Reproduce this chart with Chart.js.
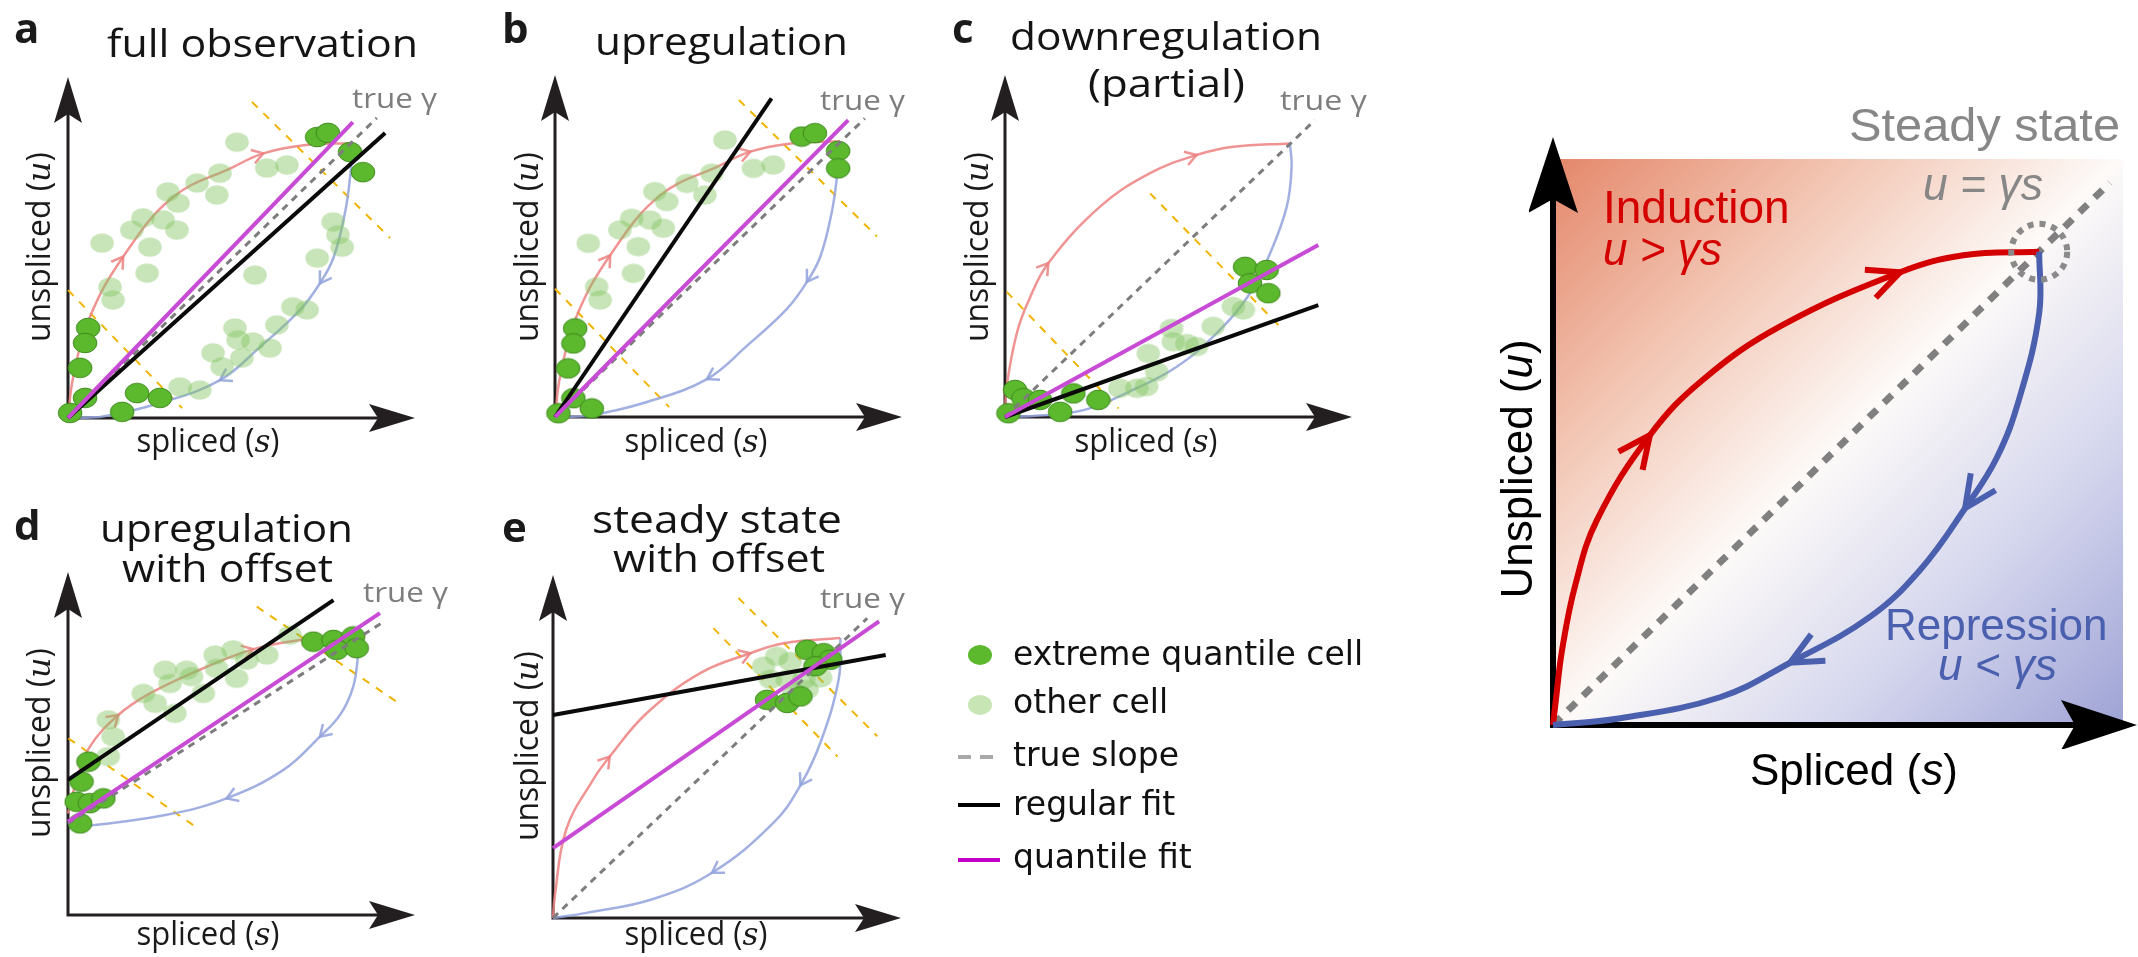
<!DOCTYPE html>
<html>
<head>
<meta charset="utf-8">
<script src="https://cdn.jsdelivr.net/npm/chart.js@4.4.1/dist/chart.umd.min.js"></script>
<style>
  html, body { margin: 0; padding: 0; background: #fff; }
  #page { position: relative; width: 2138px; height: 957px; overflow: hidden; background: #fff; }
  canvas { position: absolute; }
  #labels { position: absolute; left: 0; top: 0; pointer-events: none; }
</style>
</head>
<body>
<div id="page">
  <canvas id="panelA"></canvas>
  <canvas id="panelB"></canvas>
  <canvas id="panelC"></canvas>
  <canvas id="panelD"></canvas>
  <canvas id="panelE"></canvas>
  <canvas id="kinetics"></canvas>

  <svg id="labels" width="2138" height="957" xmlns="http://www.w3.org/2000/svg">
    <!-- panel letters -->
    <g font-family="Open Sans" font-weight="700" font-size="42" fill="#1a1a1a">
      <text x="14" y="43">a</text>
      <text x="502" y="43">b</text>
      <text x="952" y="43">c</text>
      <text x="14" y="540">d</text>
      <text x="502" y="542">e</text>
    </g>
    <!-- panel titles -->
    <g font-family="Open Sans" font-size="39" fill="#141414">
      <text x="107" y="57" textLength="311" lengthAdjust="spacingAndGlyphs">full observation</text>
      <text x="595" y="55" textLength="253" lengthAdjust="spacingAndGlyphs">upregulation</text>
      <text x="1010" y="50" textLength="312" lengthAdjust="spacingAndGlyphs">downregulation</text>
      <text x="1088" y="97" textLength="157" lengthAdjust="spacingAndGlyphs">(partial)</text>
      <text x="100" y="542" textLength="253" lengthAdjust="spacingAndGlyphs">upregulation</text>
      <text x="122" y="582" textLength="211" lengthAdjust="spacingAndGlyphs">with offset</text>
      <text x="592" y="533" textLength="250" lengthAdjust="spacingAndGlyphs">steady state</text>
      <text x="613" y="572" textLength="212" lengthAdjust="spacingAndGlyphs">with offset</text>
    </g>
    <!-- true slope tags -->
    <g font-family="Open Sans" font-size="28" fill="#7d7d7d">
      <text x="352" y="108" textLength="85" lengthAdjust="spacingAndGlyphs">true γ</text>
      <text x="820" y="110" textLength="85" lengthAdjust="spacingAndGlyphs">true γ</text>
      <text x="1280" y="110" textLength="87" lengthAdjust="spacingAndGlyphs">true γ</text>
      <text x="363" y="602" textLength="85" lengthAdjust="spacingAndGlyphs">true γ</text>
      <text x="820" y="608" textLength="85" lengthAdjust="spacingAndGlyphs">true γ</text>
    </g>
    <!-- small panel axis titles -->
    <g font-family="Open Sans" font-size="32" fill="#1a1a1a" text-anchor="middle">
      <text transform="translate(50,247) rotate(-90)" textLength="190" lengthAdjust="spacingAndGlyphs">unspliced (<tspan font-family="DejaVu Serif" font-style="italic">u</tspan>)</text>
      <text transform="translate(538,247) rotate(-90)" textLength="190" lengthAdjust="spacingAndGlyphs">unspliced (<tspan font-family="DejaVu Serif" font-style="italic">u</tspan>)</text>
      <text transform="translate(988,247) rotate(-90)" textLength="190" lengthAdjust="spacingAndGlyphs">unspliced (<tspan font-family="DejaVu Serif" font-style="italic">u</tspan>)</text>
      <text transform="translate(50,743) rotate(-90)" textLength="190" lengthAdjust="spacingAndGlyphs">unspliced (<tspan font-family="DejaVu Serif" font-style="italic">u</tspan>)</text>
      <text transform="translate(538,746) rotate(-90)" textLength="190" lengthAdjust="spacingAndGlyphs">unspliced (<tspan font-family="DejaVu Serif" font-style="italic">u</tspan>)</text>
      <text x="208" y="452" textLength="143" lengthAdjust="spacingAndGlyphs">spliced (<tspan font-family="DejaVu Serif" font-style="italic">s</tspan>)</text>
      <text x="696" y="452" textLength="143" lengthAdjust="spacingAndGlyphs">spliced (<tspan font-family="DejaVu Serif" font-style="italic">s</tspan>)</text>
      <text x="1146" y="452" textLength="143" lengthAdjust="spacingAndGlyphs">spliced (<tspan font-family="DejaVu Serif" font-style="italic">s</tspan>)</text>
      <text x="208" y="945" textLength="143" lengthAdjust="spacingAndGlyphs">spliced (<tspan font-family="DejaVu Serif" font-style="italic">s</tspan>)</text>
      <text x="696" y="945" textLength="143" lengthAdjust="spacingAndGlyphs">spliced (<tspan font-family="DejaVu Serif" font-style="italic">s</tspan>)</text>
    </g>
    <!-- legend -->
    <ellipse cx="980" cy="655" rx="12" ry="10" fill="#5cb82d"/>
    <ellipse cx="980" cy="705" rx="12" ry="10" fill="#c8e5b6"/>
    <line x1="958" y1="757" x2="1000" y2="757" stroke="#a8a8a8" stroke-width="4" stroke-dasharray="13 9"/>
    <line x1="958" y1="805" x2="1000" y2="805" stroke="#000" stroke-width="4"/>
    <line x1="958" y1="860" x2="1000" y2="860" stroke="#c400c8" stroke-width="4"/>
    <g font-family="DejaVu Sans" font-size="33" fill="#111">
      <text x="1013" y="665">extreme quantile cell</text>
      <text x="1013" y="713">other cell</text>
      <text x="1013" y="766">true slope</text>
      <text x="1013" y="815">regular fit</text>
      <text x="1013" y="868">quantile fit</text>
    </g>
    <!-- kinetics panel text -->
    <g font-family="Liberation Sans">
      <text x="1849" y="141" font-size="46" fill="#878787" textLength="271" lengthAdjust="spacingAndGlyphs">Steady state</text>
      <text x="1603" y="223" font-size="46" fill="#d40000">Induction</text>
      <text x="1603" y="265" font-size="46" fill="#d40000" font-style="italic" textLength="119" lengthAdjust="spacingAndGlyphs">u &gt; γs</text>
      <text x="1923" y="200" font-size="46" fill="#878787" font-style="italic" textLength="120" lengthAdjust="spacingAndGlyphs">u = γs</text>
      <text x="1885" y="640" font-size="44" fill="#4a5fad">Repression</text>
      <text x="1938" y="680" font-size="44" fill="#4a5fad" font-style="italic" textLength="119" lengthAdjust="spacingAndGlyphs">u &lt; γs</text>
      <text x="1750" y="785" font-size="44" fill="#000">Spliced (<tspan font-style="italic">s</tspan>)</text>
      <text transform="translate(1532,469) rotate(-90)" font-size="44" fill="#000" text-anchor="middle">Unspliced (<tspan font-style="italic">u</tspan>)</text>
    </g>
  </svg>
</div>

<script>
// ---- panel a: full observation ----
const aExtreme = [[71.8, 82.4], [74.9, 83.6], [81.3, 78.0], [85.0, 72.1], [5.8, 26.4], [4.9, 22.0],
  [3.5, 14.7], [4.9, 5.9], [0.6, 1.5], [19.9, 7.3], [26.5, 5.9], [15.6, 1.8]];
const aOther = [[48.7, 80.9], [57.3, 73.3], [63.1, 74.2], [43.8, 71.8], [37.2, 68.9], [42.9, 65.4],
  [28.8, 66.3], [31.7, 63.0], [21.6, 58.7], [27.4, 58.1], [31.4, 55.1], [18.4, 55.1], [9.8, 51.3],
  [23.6, 50.1], [22.8, 42.5], [12.1, 38.4], [13.0, 34.6], [53.9, 41.9], [76.4, 57.5], [77.8, 53.7],
  [79.0, 50.1], [71.8, 46.9], [64.8, 32.6], [68.9, 31.7], [60.2, 27.3], [48.1, 26.4], [49.0, 22.9],
  [53.3, 22.3], [58.2, 20.5], [50.1, 17.6], [41.8, 19.1], [44.4, 15.0], [32.3, 9.1], [38.0, 8.2]];
const abInduction = [[0, 0], [1.5, 12], [6.3, 29.6], [15.9, 47.3], [30.3, 64.8], [47.6, 73.6],
  [56.3, 77.6], [68, 80], [82.1, 80.6]];
const abRepression = [[82.1, 80.6], [81.3, 70.7], [79.8, 60.1], [76.5, 47], [72.6, 39.5], [66.9, 31.7],
  [55.3, 20.8], [43.8, 11.1], [26.5, 4.4], [9.2, 0.3], [0, 0]];
const aTrue = [[0, 0], [89, 88]];
const aRegular = [[0, 0], [91.4, 83.6]];
const aQuantile = [[0, 0], [82.1, 86.8]];
const abBands = [[[0, 37.5], [32.9, 2.9]], [[53, 92.7], [92.8, 52.8]]];

// ---- panel b: upregulation ----
const bExtreme = [[71.1, 82.0], [74.9, 83.0], [81.6, 77.8], [81.6, 72.7], [5.8, 25.9], [5.3, 21.5],
  [3.8, 14.2], [5.3, 5.5], [1.0, 1.1], [10.6, 2.5]];
const bOther = [[49.0, 81.0], [57.2, 72.7], [62.9, 73.7], [45.2, 71.3], [38.0, 68.3], [43.2, 64.9],
  [28.8, 65.9], [32.2, 63.0], [22.1, 58.1], [27.4, 57.6], [31.2, 55.2], [18.7, 54.7], [9.6, 50.8],
  [24.0, 49.8], [22.6, 42.0], [12.0, 38.1], [13.0, 34.2]];
const bTrue = [[0, 0], [89.3, 87.3]];
const bRegular = [[0, 0], [62.4, 93.2]];
const bQuantile = [[0, 0], [84.5, 86.8]];

// ---- panel c: downregulation (partial) ----
const cExtreme = [[69.2, 43.9], [75.4, 43.0], [70.6, 39.1], [75.9, 36.2], [2.9, 7.9], [5.3, 5.5],
  [1.0, 1.1], [10.1, 5.0], [15.9, 1.5], [19.7, 6.9], [26.9, 5.0]];
const cOther = [[33.1, 8.4], [38.0, 8.4], [40.8, 8.9], [43.7, 13.2], [41.3, 18.6], [48.0, 25.9],
  [48.5, 22.0], [52.4, 21.5], [55.2, 20.6], [60.0, 26.5], [65.8, 32.3], [68.7, 31.3]];
const cInduction = [[0, 0], [0.5, 9], [3.4, 24.5], [6.9, 34.2], [12.5, 45], [27.4, 61.5], [41.8, 71.3],
  [55.2, 76.6], [65.8, 79], [82.1, 80]];
const cRepression = [[82.1, 80], [82.6, 73.2], [81.2, 61.5], [76.4, 47.9], [70.6, 36.2], [61, 24.5],
  [49.5, 14.7], [36, 7.5], [22.6, 2], [8, 0.3], [0, 0]];
const cTrue = [[0, 0], [89.3, 86.8]];
const cRegular = [[0, 0], [90.3, 32.7]];
const cQuantile = [[0, 0], [90.3, 50.3]];
const cBands = [[[0.5, 36.6], [32.7, 2.5]], [[41.8, 65.4], [80.2, 25.4]]];

// ---- panel d: upregulation with offset ----
const dExtreme = [[5.9, 44.7], [3.9, 38.9], [2.5, 33.0], [6.3, 32.6], [10.2, 34.0], [3.5, 26.7],
  [70.7, 79.7], [76.5, 80.2], [82.2, 81.2], [77.4, 77.3], [83.2, 77.8]];
const dOther = [[11.6, 56.9], [13.0, 52.0], [11.6, 46.2], [21.7, 64.6], [25.1, 61.7], [28.0, 71.4],
  [29.4, 67.5], [34.2, 71.4], [35.6, 69.5], [39.0, 64.6], [42.4, 75.8], [42.8, 71.9], [47.6, 77.3],
  [48.6, 69.0], [51.5, 74.3], [57.3, 75.8], [64.0, 81.6], [30.8, 58.8]];
const dInduction = [[0, 29.6], [2.5, 39.4], [6.3, 49.1], [14.5, 58.3], [23.6, 64.6], [38, 71.5],
  [53.4, 77.5], [66.9, 80.2], [82.2, 81.2]];
const dRepression = [[83.7, 76.3], [82.2, 66.6], [78.5, 58.5], [72.6, 52.0], [62.1, 42.3], [45.7, 34.0],
  [28.4, 29.2], [7.3, 26.2], [2.5, 26.0]];
const dTrue = [[0, 26.6], [91, 85.5]];
const dRegular = [[0, 39.4], [76.5, 91.8]];
const dQuantile = [[0, 27.2], [89.9, 88]];
const dBands = [[[0.1, 51.5], [36.1, 26.2]], [[54.4, 89.9], [94.7, 62.2]]];

// ---- panel e: steady state with offset ----
const eExtreme = [[61.5, 63.6], [67.3, 62.7], [71.1, 64.6], [73.0, 78.2], [77.8, 77.2], [79.7, 75.3],
  [75.4, 73.4]];
const eOther = [[60.5, 73.4], [64.3, 76.3], [68.2, 74.8], [62.5, 69.6], [67.3, 69.6], [72.1, 69.6],
  [76.9, 70.0], [69.2, 65.6], [73.0, 66.6]];
const eInduction = [[0, 0], [0.5, 6.3], [3.8, 25.8], [11.5, 40.3], [16.3, 47.1], [26.9, 59.7],
  [42.3, 71.4], [56.7, 77.2], [66.3, 80.1], [82.6, 81.6]];
const eRepression = [[82.6, 81.6], [82.1, 69.6], [76.9, 51.3], [71.1, 38.7], [63.4, 27.8], [45.7, 13.2],
  [28.3, 5.4], [9.6, 1.5], [0, 0]];
const eTrue = [[0, 0], [90.3, 87.4]];
const eRegular = [[0, 59.2], [95.6, 76.7]];
const eQuantile = [[0, 20.4], [93.7, 86.5]];
const eBands = [[[46.1, 84.5], [81.7, 47.1]], [[53.3, 93.3], [93.2, 53.0]]];

// ---- kinetics overview ----
const kinInduction = [[0, 0], [0.5, 4.4], [1.6, 13.3], [3.9, 24.7], [7.7, 36.2], [17, 51.2],
  [26.3, 61], [40, 70.5], [60.9, 80.0], [72, 83], [85.3, 83.6]];
const kinRepression = [[85.3, 83.6], [85.3, 72.8], [81.9, 58.0], [77.9, 47.3], [72.3, 38.3], [64.4, 27.4],
  [55.6, 19.1], [41.6, 11.0], [29.3, 4.9], [11.8, 1.2], [0, 0]];
const kinSteadyLine = [[0, 0], [97.7, 95.8]];
const kinSteadyState = [[85.3, 83.6]];

Chart.defaults.animation = false;
Chart.defaults.events = [];
Chart.defaults.plugins.legend.display = false;
Chart.defaults.plugins.tooltip.enabled = false;

const xy = arr => arr.map(([x, y]) => ({ x, y }));

// slightly flattened cell markers
function cellMarker(fill, stroke) {
  const c = document.createElement('canvas');
  c.width = 26;
  c.height = 22;
  const g = c.getContext('2d');
  g.beginPath();
  g.ellipse(13, 11, 11.8, 9.8, 0, 0, Math.PI * 2);
  g.fillStyle = fill;
  g.fill();
  if (stroke) {
    g.strokeStyle = stroke;
    g.lineWidth = 1;
    g.stroke();
  }
  return c;
}
const extremeMarker = cellMarker('#5cb82d', '#3d8a1d');
const otherMarker = cellMarker('rgba(130,196,95,0.44)', null);

function line(points, style) {
  return Object.assign({ data: xy(points), showLine: true, pointRadius: 0, clip: false, fill: false }, style);
}

function dots(points, marker, order) {
  return { data: xy(points), showLine: false, pointStyle: marker, pointRadius: 11, clip: false, order };
}

// axes with notched arrowheads, drawn from the chart area's lower-left corner
function arrowAxes(cfg) {
  return {
    id: 'arrowAxes',
    beforeDatasetsDraw(chart) {
      const { ctx, chartArea: a } = chart;
      const x0 = a.left, y0 = a.bottom;
      const xTip = a.right + cfg.overX, yTip = a.top - cfg.overY;
      ctx.save();
      ctx.strokeStyle = cfg.color;
      ctx.fillStyle = cfg.color;
      ctx.lineWidth = cfg.width;
      ctx.beginPath();
      ctx.moveTo(x0, y0 + cfg.width / 2);
      ctx.lineTo(x0, yTip + cfg.head - cfg.notch);
      ctx.moveTo(x0 - cfg.width / 2, y0);
      ctx.lineTo(xTip - cfg.head + cfg.notch, y0);
      ctx.stroke();
      ctx.beginPath();
      ctx.moveTo(x0, yTip);
      ctx.lineTo(x0 - cfg.half, yTip + cfg.head);
      ctx.lineTo(x0, yTip + cfg.head - cfg.notch);
      ctx.lineTo(x0 + cfg.half, yTip + cfg.head);
      ctx.closePath();
      ctx.fill();
      ctx.beginPath();
      ctx.moveTo(xTip, y0);
      ctx.lineTo(xTip - cfg.head, y0 - cfg.half);
      ctx.lineTo(xTip - cfg.head + cfg.notch, y0);
      ctx.lineTo(xTip - cfg.head, y0 + cfg.half);
      ctx.closePath();
      ctx.fill();
      ctx.restore();
    }
  };
}

// open chevrons along trajectories, and the dotted ring round the steady state
const trajectoryMarks = {
  id: 'trajectoryMarks',
  afterDatasetDraw(chart, args) {
    const ds = chart.data.datasets[args.index];
    const pts = args.meta.data;
    const ctx = chart.ctx;
    if (ds.arrowAt) {
      const [len, spread] = ds.arrowSize;
      ds.arrowAt.forEach(k => {
        const p = pts[k], a = pts[k - 1], b = pts[k + 1];
        const ang = Math.atan2(b.y - a.y, b.x - a.x);
        ctx.save();
        ctx.translate(p.x, p.y);
        ctx.rotate(ang);
        ctx.strokeStyle = ds.borderColor;
        ctx.lineWidth = ds.borderWidth;
        ctx.beginPath();
        ctx.moveTo(-len, -spread);
        ctx.lineTo(0, 0);
        ctx.lineTo(-len, spread);
        ctx.stroke();
        ctx.restore();
      });
    }
    if (ds.ring) {
      pts.forEach(p => {
        ctx.save();
        ctx.strokeStyle = ds.ring.color;
        ctx.lineWidth = ds.ring.width;
        ctx.setLineDash(ds.ring.dash);
        ctx.beginPath();
        ctx.arc(p.x, p.y, ds.ring.radius, 0, Math.PI * 2);
        ctx.stroke();
        ctx.restore();
      });
    }
  }
};

const PAD = 32;

function makePanel(id, origin, size, p) {
  const cv = document.getElementById(id);
  cv.width = size[0] + 2 * PAD;
  cv.height = size[1] + 2 * PAD;
  cv.style.left = (origin[0] - PAD) + 'px';
  cv.style.top = (origin[1] - size[1] - PAD) + 'px';

  const datasets = [
    line(p.quantile, { borderColor: '#c84bd6', borderWidth: 4, order: 1 }),
    line(p.regular, { borderColor: '#0a0a0a', borderWidth: 4, order: 2 }),
    line(p.truth, { borderColor: '#7d7d7d', borderWidth: 3, borderDash: [7, 6], order: 3 }),
    dots(p.extreme, extremeMarker, 4),
    dots(p.other, otherMarker, 5),
    line(p.induction, { borderColor: 'rgba(236,128,128,0.85)', borderWidth: 2.5, tension: 0.4,
      arrowAt: p.inductionArrows, arrowSize: [11, 7], order: 6 }),
    line(p.repression, { borderColor: 'rgba(146,162,220,0.85)', borderWidth: 2.5, tension: 0.4,
      arrowAt: p.repressionArrows, arrowSize: [11, 7], order: 6 }),
    ...p.bands.map(b => line(b, { borderColor: '#f0b400', borderWidth: 2, borderDash: [8, 8], order: 7 }))
  ];

  new Chart(cv, {
    type: 'scatter',
    data: { datasets },
    options: {
      responsive: false,
      devicePixelRatio: 1,
      layout: { padding: PAD },
      scales: {
        x: { type: 'linear', min: 0, max: 100, display: false },
        y: { type: 'linear', min: 0, max: 100, display: false }
      }
    },
    plugins: [
      arrowAxes({ color: '#231f20', width: 3, head: 46, half: 14, notch: 9, overX: 0, overY: 0 }),
      trajectoryMarks
    ]
  });
}

makePanel('panelA', [68, 418], [347, 341], {
  extreme: aExtreme, other: aOther, induction: abInduction, repression: abRepression,
  inductionArrows: [3, 6], repressionArrows: [4, 7],
  truth: aTrue, regular: aRegular, quantile: aQuantile, bands: abBands
});
makePanel('panelB', [555, 417], [347, 342], {
  extreme: bExtreme, other: bOther, induction: abInduction, repression: abRepression,
  inductionArrows: [3, 6], repressionArrows: [4, 7],
  truth: bTrue, regular: bRegular, quantile: bQuantile, bands: abBands
});
makePanel('panelC', [1005, 417], [347, 342], {
  extreme: cExtreme, other: cOther, induction: cInduction, repression: cRepression,
  inductionArrows: [4, 7], repressionArrows: null,
  truth: cTrue, regular: cRegular, quantile: cQuantile, bands: cBands
});
makePanel('panelD', [68, 915], [347, 343], {
  extreme: dExtreme, other: dOther, induction: dInduction, repression: dRepression,
  inductionArrows: [3, 6], repressionArrows: [3, 5],
  truth: dTrue, regular: dRegular, quantile: dQuantile, bands: dBands
});
makePanel('panelE', [553, 918], [348, 343], {
  extreme: eExtreme, other: eOther, induction: eInduction, repression: eRepression,
  inductionArrows: [4, 7], repressionArrows: [3, 5],
  truth: eTrue, regular: eRegular, quantile: eQuantile, bands: eBands
});

// ---- kinetics overview: shaded phase plane ----
const regionShade = {
  id: 'regionShade',
  beforeDatasetsDraw(chart) {
    const { ctx, chartArea: a } = chart;
    const g = ctx.createLinearGradient(a.left, a.top, a.right, a.bottom);
    g.addColorStop(0, '#e4876a');
    g.addColorStop(0.25, '#f2c3b0');
    g.addColorStop(0.5, '#fdfaf8');
    g.addColorStop(0.75, '#d3d5ed');
    g.addColorStop(1, '#9fa3d5');
    ctx.save();
    ctx.fillStyle = g;
    ctx.fillRect(a.left, a.top, a.right - a.left, a.bottom - a.top);
    ctx.restore();
  }
};

(function () {
  const cv = document.getElementById('kinetics');
  const pad = { left: 24, right: 34, top: 44, bottom: 24 };
  const size = [570, 566];
  const origin = [1553, 725];
  cv.width = size[0] + pad.left + pad.right;
  cv.height = size[1] + pad.top + pad.bottom;
  cv.style.left = (origin[0] - pad.left) + 'px';
  cv.style.top = (origin[1] - size[1] - pad.top) + 'px';

  new Chart(cv, {
    type: 'scatter',
    data: {
      datasets: [
        line(kinSteadyState, { pointRadius: 0, showLine: false,
          ring: { radius: 28, width: 6, dash: [6, 6], color: '#8a8a8a' }, order: 1 }),
        line(kinRepression, { borderColor: '#4a5fad', borderWidth: 6, tension: 0.4,
          arrowAt: [4, 7], arrowSize: [32, 15], order: 2 }),
        line(kinInduction, { borderColor: '#d40000', borderWidth: 6, tension: 0.4,
          arrowAt: [5, 8], arrowSize: [32, 15], order: 3 }),
        line(kinSteadyLine, { borderColor: '#808080', borderWidth: 7, borderDash: [11, 10], order: 4 })
      ]
    },
    options: {
      responsive: false,
      devicePixelRatio: 1,
      layout: { padding: pad },
      scales: {
        x: { type: 'linear', min: 0, max: 100, display: false },
        y: { type: 'linear', min: 0, max: 100, display: false }
      }
    },
    plugins: [
      regionShade,
      arrowAxes({ color: '#000', width: 6, head: 76, half: 25, notch: 14, overX: 14, overY: 22 }),
      trajectoryMarks
    ]
  });
})();
</script>
</body>
</html>
